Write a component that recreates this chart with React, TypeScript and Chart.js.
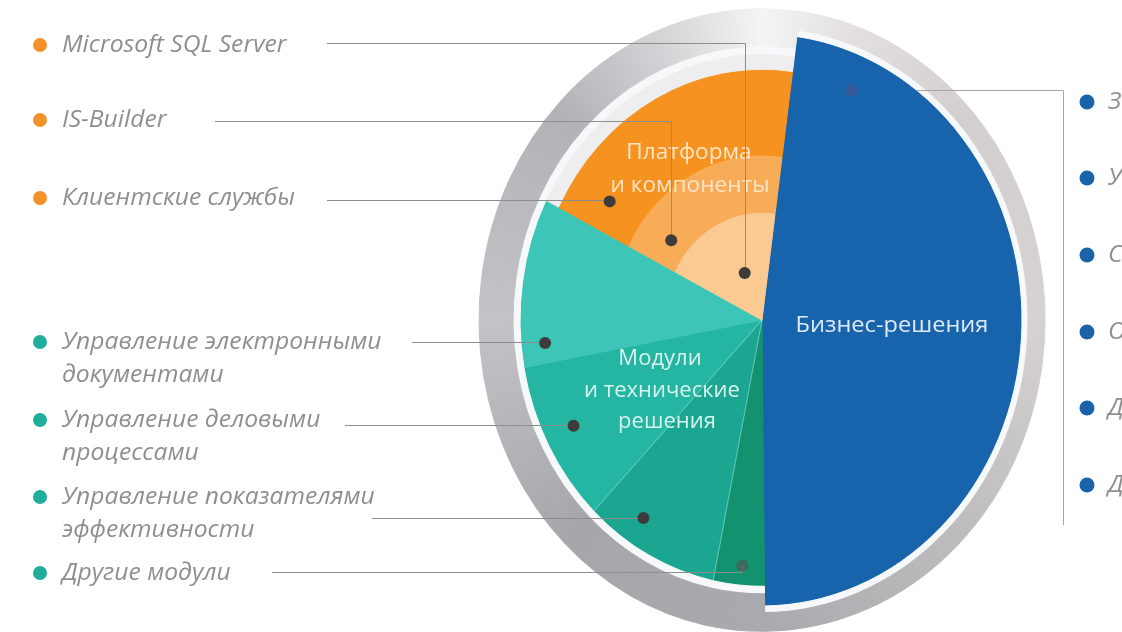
import React, { useEffect, useRef } from "react";
import { Chart, registerables } from "chart.js";

Chart.register(...registerables);

// ---------- data ----------
const categories = [
  "Бизнес-решения",
  "Другие модули",
  "Управление показателями эффективности",
  "Управление деловыми процессами",
  "Управление электронными документами",
  "Платформа и компоненты",
];
// share of the circle (percent), clockwise starting at the blue sector
const shares = [47.7, 3.4, 9.0, 9.9, 10.3, 19.7];

// platform layers, outer -> inner
const platformParts = ["Клиентские службы", "IS-Builder", "Microsoft SQL Server"];

const businessItems = [
  "Заявки и обращения",
  "Управление договорами",
  "Совещания",
  "Обращения граждан",
  "Делопроизводство",
  "Документооборот",
];

// ---------- styles / layout ----------
const W = 1122;
const H = 632;
const SCREEN_CY = 320;
const STRETCH = 1.1;
const ROTATION = 7.7;

const BLUE = "#1764ad";
const T4 = "#13926f";
const T3 = "#1aa690";
const T2 = "#24b5a3";
const T1 = "#3dc6b7";
const OD = "#f6921f";
const OM = "#f8ac58";
const OL = "#fbca92";
const WG = "#f6f8f9";
const LG = "#eeeef0";
const RING = "ring";

// ring bands, outer -> inner (px widths)
const bandWeights = [17, 6, 11, 7, 14, 78, 52, 98];
const bandColors = [
  [RING, RING, RING, RING, RING, RING],
  [WG, RING, RING, RING, RING, RING],
  [BLUE, RING, RING, RING, RING, RING],
  [BLUE, WG, WG, WG, WG, WG],
  [BLUE, T4, T3, T2, T1, LG],
  [BLUE, T4, T3, T2, T1, OD],
  [BLUE, T4, T3, T2, T1, OM],
  [BLUE, T4, T3, T2, T1, OL],
];

const ORANGE_DOT = "#f3922a";
const TEAL_DOT = "#20ad9b";
const BLUE_DOT = "#1a63aa";
const LINE = "#8d8d8d";
const LABEL = "#8f8f8f";

const leftLabels = [
  { lines: [platformParts[2]], textY: [45], lineY: 43, lineX: 327, dotColor: ORANGE_DOT, band: 7, idx: 5, t: 0.58, f: 0.47 },
  { lines: [platformParts[1]], textY: [120], lineY: 121, lineX: 215, dotColor: ORANGE_DOT, band: 6, idx: 5, t: 0.167, f: 0.35 },
  { lines: [platformParts[0]], textY: [198], lineY: 200, lineX: 327, dotColor: ORANGE_DOT, band: 5, idx: 5, t: 0.12, f: 0.47 },
  { lines: ["Управление электронными", "документами"], textY: [342, 375], lineY: 342, lineX: 412, dotColor: TEAL_DOT, band: 5, idx: 4, t: 0.13, f: 0.87 },
  { lines: ["Управление деловыми", "процессами"], textY: [420, 453], lineY: 425, lineX: 345, dotColor: TEAL_DOT, band: 5, idx: 3, t: 0.53, f: 0.79 },
  { lines: ["Управление показателями", "эффективности"], textY: [497, 530], lineY: 518, lineX: 372, dotColor: TEAL_DOT, band: 5, idx: 2, t: 0.67, f: 0.84 },
  { lines: ["Другие модули"], textY: [573], lineY: 572, lineX: 272, dotColor: TEAL_DOT, band: 5, idx: 1, t: 0.46, f: 0.95, faint: true },
];

const rightDotYs = [102, 178, 255, 332, 408, 485];

function ringGradient(chart: any) {
  if (chart.$ringGrad) return chart.$ringGrad;
  const a = chart.chartArea;
  if (!a) return "#c0c0c4";
  const cx = (a.left + a.right) / 2;
  const cy = (a.top + a.bottom) / 2;
  const g = chart.ctx.createConicGradient(0, cx, cy);
  g.addColorStop(0, "#d6d2d2");
  g.addColorStop(0.125, "#bdbbbd");
  g.addColorStop(0.25, "#aaaaae");
  g.addColorStop(0.375, "#a7a7ab");
  g.addColorStop(0.5, "#c3c3c7");
  g.addColorStop(0.62, "#b3b3b7");
  g.addColorStop(0.7, "#d9d9dc");
  g.addColorStop(0.75, "#f4f4f6");
  g.addColorStop(0.8, "#e4e0e0");
  g.addColorStop(0.88, "#d3cfcf");
  g.addColorStop(1, "#d6d2d2");
  chart.$ringGrad = g;
  return g;
}

function resolveColor(c: string, chart: any) {
  return c === RING ? ringGradient(chart) : c;
}

function drawText(
  ctx: CanvasRenderingContext2D,
  text: string,
  x: number,
  y: number,
  font: string,
  color: string,
  align: CanvasTextAlign = "left",
  sx = 1.12,
  sy = 1.05
) {
  ctx.save();
  ctx.translate(x, y);
  ctx.scale(sx, sy);
  ctx.font = font;
  ctx.fillStyle = color;
  ctx.textAlign = align;
  ctx.textBaseline = "middle";
  ctx.fillText(text, 0, 0);
  ctx.restore();
}

function dot(ctx: CanvasRenderingContext2D, x: number, y: number, r: number, color: string) {
  ctx.beginPath();
  ctx.arc(x, y, r, 0, Math.PI * 2);
  ctx.fillStyle = color;
  ctx.fill();
}

const stretchPlugin = {
  id: "stretch",
  beforeDatasetsDraw(chart: any) {
    const ctx = chart.ctx;
    const a = chart.chartArea;
    const cy = (a.top + a.bottom) / 2;
    ctx.save();
    ctx.translate(0, SCREEN_CY);
    ctx.scale(1, STRETCH);
    ctx.translate(0, -cy);
  },
  afterDatasetsDraw(chart: any) {
    chart.ctx.restore();
  },
  afterDraw(chart: any) {
    const ctx: CanvasRenderingContext2D = chart.ctx;
    const a = chart.chartArea;
    const cyC = (a.top + a.bottom) / 2;
    const toS = (x: number, y: number) => ({ x, y: SCREEN_CY + (y - cyC) * STRETCH });
    const arcPoint = (band: number, idx: number, t: number, f: number) => {
      const el = chart.getDatasetMeta(band).data[idx];
      const ang = el.startAngle + t * (el.endAngle - el.startAngle);
      const r = el.innerRadius + f * (el.outerRadius - el.innerRadius);
      return toS(el.x + r * Math.cos(ang), el.y + r * Math.sin(ang));
    };

    // divider lines between teal sub-sectors
    ctx.save();
    ctx.strokeStyle = "rgba(255,255,255,0.35)";
    ctx.lineWidth = 1;
    [1, 2].forEach((idx) => {
      const el = chart.getDatasetMeta(5).data[idx];
      const r = chart.getDatasetMeta(4).data[idx].outerRadius;
      const p0 = toS(el.x, el.y);
      const p1 = toS(el.x + r * Math.cos(el.endAngle), el.y + r * Math.sin(el.endAngle));
      ctx.beginPath();
      ctx.moveTo(p0.x, p0.y);
      ctx.lineTo(p1.x, p1.y);
      ctx.stroke();
    });
    ctx.restore();

    // sector labels
    const secFont = '20px "Open Sans", sans-serif';
    drawText(ctx, "Платформа", 689, 153, secFont, "#fde5c8", "center", 1.13, 1.08);
    drawText(ctx, "и компоненты", 690, 186, secFont, "#fde5c8", "center", 1.13, 1.08);
    drawText(ctx, "Модули", 660, 359, secFont, "#d8f4ee", "center", 1.1, 1.08);
    drawText(ctx, "и технические", 662, 391, secFont, "#d8f4ee", "center", 1.1, 1.08);
    drawText(ctx, "решения", 667, 422, secFont, "#d8f4ee", "center", 1.1, 1.08);
    drawText(ctx, categories[0], 892, 326, secFont, "#dfeaf7", "center", 1.18, 1.08);

    // left labels + leaders
    const labFont = 'italic 22px "Open Sans", sans-serif';
    leftLabels.forEach((l) => {
      const p = arcPoint(l.band, l.idx, l.t, l.f);
      ctx.save();
      ctx.strokeStyle = LINE;
      ctx.lineWidth = 1;
      ctx.beginPath();
      ctx.moveTo(l.lineX, l.lineY + 0.5);
      ctx.lineTo(Math.round(p.x) + 0.5, l.lineY + 0.5);
      ctx.lineTo(Math.round(p.x) + 0.5, p.y);
      ctx.stroke();
      ctx.restore();
      dot(ctx, p.x, p.y, 6, l.faint ? "rgba(110,60,70,0.45)" : "#3d3b3b");
      dot(ctx, 40, l.textY[0], 7, l.dotColor);
      l.lines.forEach((s, i) => drawText(ctx, s, 62, l.textY[i], labFont, LABEL));
    });

    // right side: business items
    const bp = arcPoint(5, 0, 0.09, 0.99);
    dot(ctx, bp.x, bp.y, 6, "rgba(110,70,110,0.35)");
    const el0 = chart.getDatasetMeta(2).data[0];
    const lineY = 90;
    const dyC = cyC + (lineY - SCREEN_CY) / STRETCH - el0.y;
    const xEdge = el0.x + Math.sqrt(Math.max(0, el0.outerRadius * el0.outerRadius - dyC * dyC));
    ctx.save();
    ctx.strokeStyle = "#a9a4a4";
    ctx.lineWidth = 1;
    ctx.beginPath();
    ctx.moveTo(xEdge, lineY + 0.5);
    ctx.lineTo(1063.5, lineY + 0.5);
    ctx.lineTo(1063.5, 525);
    ctx.stroke();
    ctx.restore();
    rightDotYs.forEach((y, i) => {
      dot(ctx, 1087, y, 7.5, BLUE_DOT);
      drawText(ctx, businessItems[i], 1108, y, labFont, LABEL);
    });
  },
};

export default function App() {
  const ref = useRef<HTMLCanvasElement>(null);
  useEffect(() => {
    const canvas = ref.current!;
    const chart = new Chart(canvas, {
      type: "pie",
      data: {
        labels: categories,
        datasets: bandColors.map((cols, b) => ({
          data: shares,
          weight: bandWeights[b],
          backgroundColor: (c: any) => resolveColor(cols[c.dataIndex], c.chart),
          borderColor: (c: any) => resolveColor(cols[c.dataIndex], c.chart),
          borderWidth: 1,
          clip: false,
        })),
      } as any,
      options: {
        responsive: false,
        animation: false,
        radius: 283,
        cutout: 0,
        rotation: ROTATION,
        events: [],
        layout: { padding: { left: 460, right: 58, top: 10, bottom: 10 } },
        plugins: { legend: { display: false }, tooltip: { enabled: false } },
      } as any,
      plugins: [stretchPlugin],
    });
    return () => chart.destroy();
  }, []);
  return (
    <div style={{ position: "fixed", left: 0, top: 0, width: W, height: H, background: "#fff", overflow: "hidden" }}>
      <canvas ref={ref} width={W} height={H} style={{ display: "block" }} />
    </div>
  );
}
